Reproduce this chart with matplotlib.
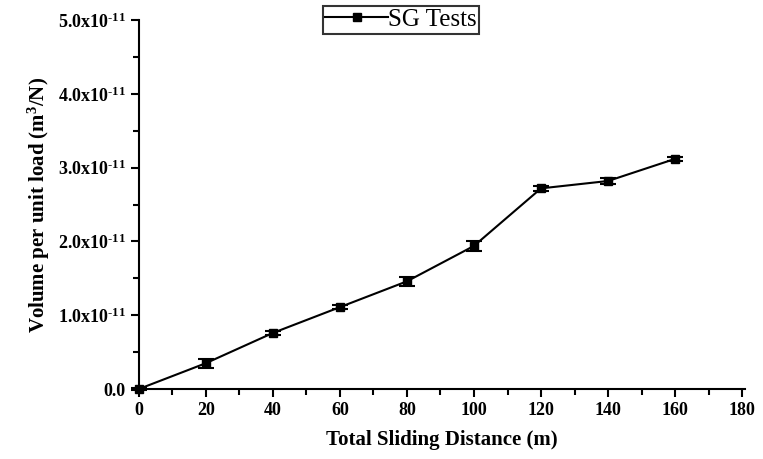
import matplotlib.pyplot as plt
from matplotlib.lines import Line2D
from matplotlib.ticker import FuncFormatter, MultipleLocator

distance = [0, 20, 40, 60, 80, 100, 120, 140, 160]
volume = [0.0, 0.35, 0.76, 1.11, 1.46, 1.94, 2.72, 2.82, 3.12]  # x1e-11
err = [0.02, 0.06, 0.03, 0.03, 0.06, 0.07, 0.03, 0.04, 0.03]

plt.rcParams['font.family'] = ['Liberation Serif', 'DejaVu Serif']
plt.rcParams['mathtext.fontset'] = 'custom'
plt.rcParams['mathtext.rm'] = 'Liberation Serif:bold'
plt.rcParams['mathtext.it'] = 'Liberation Serif:bold'
plt.rcParams['mathtext.bf'] = 'Liberation Serif:bold'

fig = plt.figure(figsize=(7.63, 4.59), dpi=100)
ax = fig.add_axes([0.182, 0.1525, 0.795, 0.8035])

vals = [v * 1e-11 for v in volume]
errs = [e * 1e-11 for e in err]
line = ax.errorbar(distance, vals, yerr=errs, color='black', lw=1.5,
                   marker='s', ms=6, mfc='black', mec='black',
                   capsize=6, capthick=1.5, elinewidth=1.5,
                   clip_on=False, zorder=3)
for a in line.get_children():
    a.set_clip_on(False)

ax.set_xlim(0, 181)
ax.set_ylim(0, 5e-11)
ax.xaxis.set_major_locator(MultipleLocator(20))
ax.xaxis.set_minor_locator(MultipleLocator(10))
ax.yaxis.set_major_locator(MultipleLocator(1e-11))
ax.yaxis.set_minor_locator(MultipleLocator(0.5e-11))

def yfmt(v, pos):
    m = v / 1e-11
    if abs(m) < 1e-9:
        return '0.0'
    return r'$\mathbf{%.1fx10^{\text{-}11}}$' % m

ax.yaxis.set_major_formatter(FuncFormatter(yfmt))

for s in ['top', 'right']:
    ax.spines[s].set_visible(False)
for s in ['left', 'bottom']:
    ax.spines[s].set_linewidth(1.5)

ax.tick_params(which='major', direction='out', length=6, width=1.5,
               labelsize=13)
ax.tick_params(which='minor', direction='out', length=4, width=1.5)
for lab in ax.get_xticklabels() + ax.get_yticklabels():
    lab.set_fontweight('bold')

ax.set_xlabel('Total Sliding Distance (m)', fontsize=15, fontweight='bold',
              labelpad=8)
ax.set_ylabel(r'Volume per unit load (m$^{3}$/N)', fontsize=15,
              fontweight='bold', labelpad=4)

handle = Line2D([], [], color='black', lw=1.5, marker='s', ms=6,
                mfc='black', mec='black')
leg = ax.legend([handle], ['SG Tests'], loc='upper center',
                bbox_to_anchor=(0.432, 1.038),
                frameon=True, fancybox=False, edgecolor='black',
                fontsize=18, handlelength=2.5, borderpad=0.1,
                borderaxespad=0, handletextpad=0.0)
leg.get_frame().set_linewidth(1.5)

fig.savefig('out.png', dpi=100)
